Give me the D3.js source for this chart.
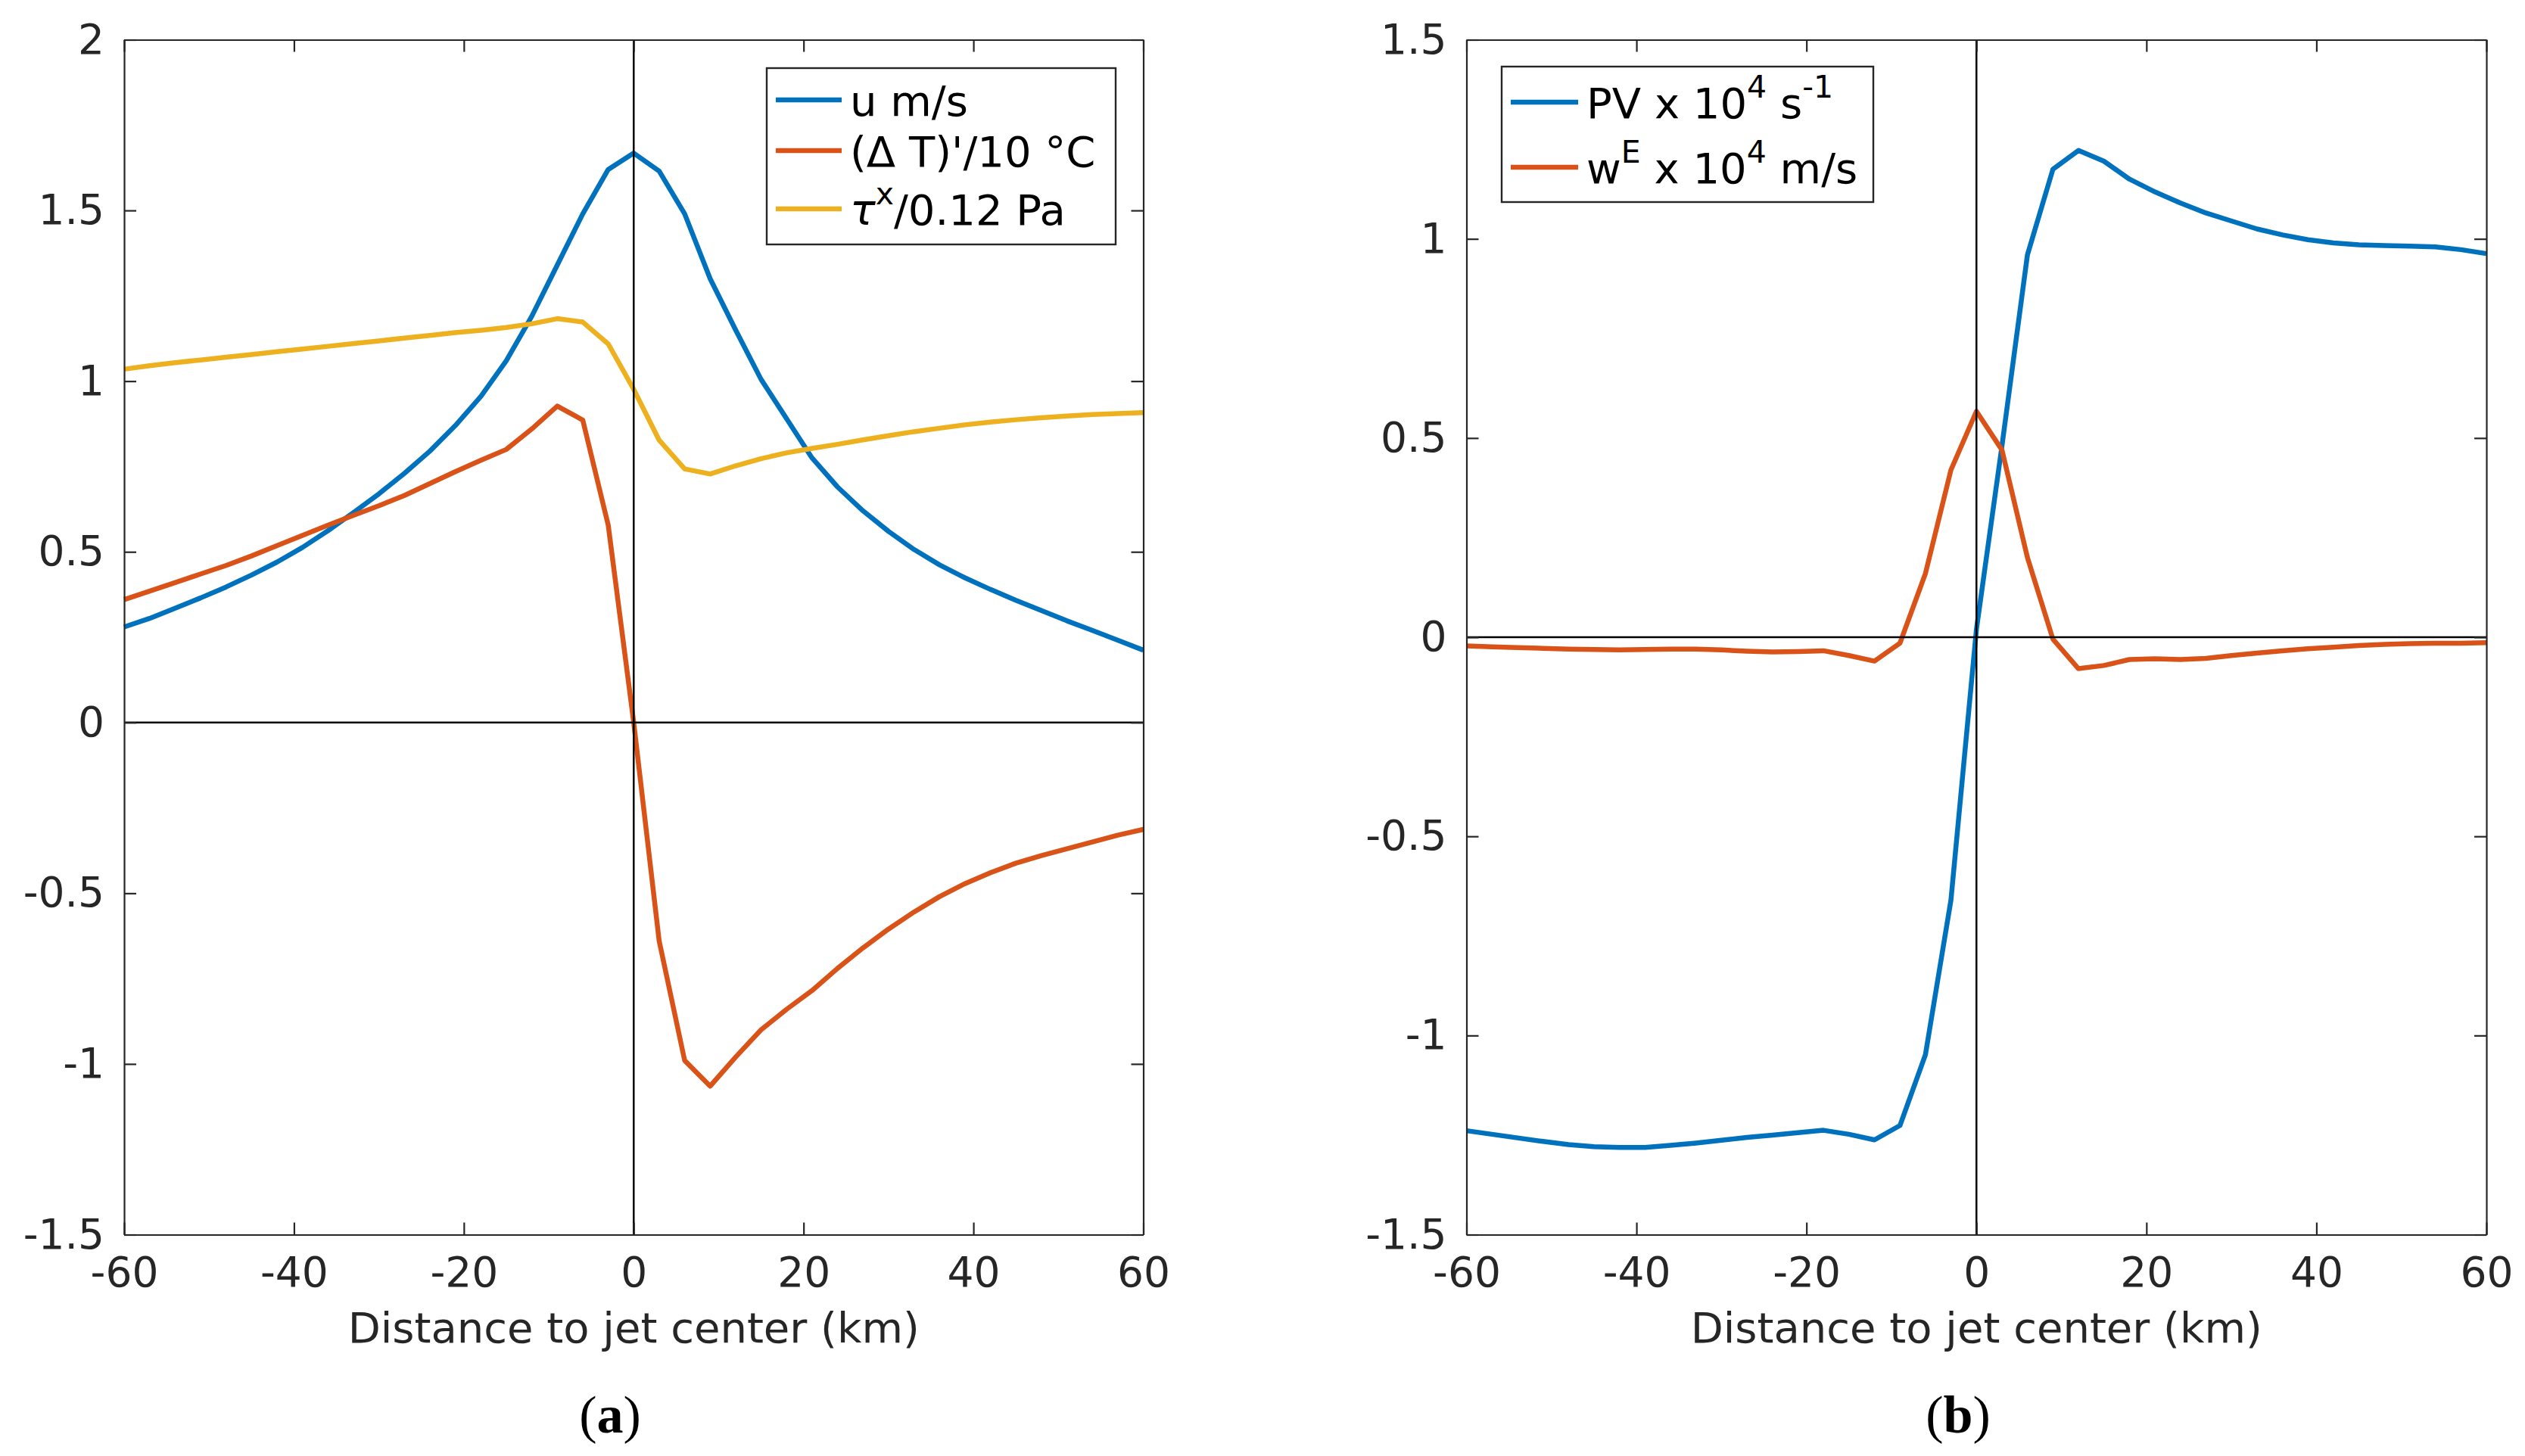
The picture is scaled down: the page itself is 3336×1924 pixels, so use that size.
<!DOCTYPE html>
<html>
<head>
<meta charset="utf-8">
<script src="https://cdn.jsdelivr.net/npm/d3@7"></script>
<style>
  html, body { margin: 0; padding: 0; background: #ffffff; }
  svg { display: block; }
  text { font-family: "DejaVu Sans", sans-serif; }
</style>
</head>
<body>
<svg id="chart" width="3336" height="1924"></svg>
<script>
// ---------------- data ----------------
const xKm = [-60,-57,-54,-51,-48,-45,-42,-39,-36,-33,-30,-27,-24,-21,-18,-15,-12,-9,-6,-3,
             0,3,6,9,12,15,18,21,24,27,30,33,36,39,42,45,48,51,54,57,60];

// panel (a)
const uVals = [0.28,0.305,0.335,0.365,0.397,0.432,0.47,0.513,0.562,0.615,0.67,0.73,0.795,0.87,0.955,1.06,1.19,1.34,1.49,1.62,
               1.668,1.615,1.49,1.30,1.15,1.005,0.89,0.775,0.69,0.62,0.56,0.507,0.462,0.424,0.39,0.358,0.328,0.298,0.27,0.241,0.212];
const dTVals = [0.36,0.385,0.41,0.435,0.46,0.488,0.518,0.548,0.578,0.607,0.635,0.665,0.70,0.735,0.768,0.80,0.86,0.927,0.886,0.578,
                0.0,-0.64,-0.99,-1.065,-0.98,-0.90,-0.84,-0.785,-0.72,-0.66,-0.605,-0.555,-0.51,-0.472,-0.44,-0.412,-0.39,-0.37,-0.35,-0.33,-0.313];
const tauVals = [1.035,1.045,1.054,1.062,1.07,1.078,1.086,1.094,1.102,1.11,1.118,1.126,1.134,1.142,1.149,1.157,1.168,1.183,1.173,1.109,
                 0.976,0.827,0.743,0.728,0.752,0.773,0.79,0.803,0.815,0.828,0.84,0.852,0.862,0.872,0.88,0.887,0.893,0.898,0.902,0.905,0.908];

// panel (b)
const pvVals = [-1.239,-1.248,-1.257,-1.266,-1.274,-1.279,-1.281,-1.281,-1.276,-1.27,-1.263,-1.256,-1.25,-1.244,-1.238,-1.248,-1.262,-1.226,-1.048,-0.66,
                0.02,0.48,0.96,1.175,1.222,1.195,1.15,1.118,1.09,1.065,1.045,1.025,1.01,0.998,0.99,0.985,0.983,0.982,0.98,0.973,0.963];
const wEVals = [-0.022,-0.024,-0.026,-0.028,-0.03,-0.031,-0.032,-0.031,-0.03,-0.03,-0.032,-0.035,-0.037,-0.036,-0.034,-0.046,-0.06,-0.015,0.16,0.42,
                0.567,0.47,0.2,-0.005,-0.079,-0.071,-0.056,-0.054,-0.056,-0.053,-0.046,-0.04,-0.034,-0.029,-0.025,-0.021,-0.018,-0.016,-0.015,-0.015,-0.014];

// ticks
const xTicks = [-60,-40,-20,0,20,40,60];
const yTicksA = [-1.5,-1,-0.5,0,0.5,1,1.5,2];
const yTicksB = [-1.5,-1,-0.5,0,0.5,1,1.5];

const xLabel = "Distance to jet center (km)";
const panelLabels = ["a", "b"];

const colors = ["#0072BD", "#D95319", "#EDB120"];
const axisColor = "#262626";

// ---------------- drawing ----------------
const svg = d3.select("#chart");
svg.append("rect").attr("width", 3336).attr("height", 1924).attr("fill", "#fff");

function drawPanel(cfg) {
  const g = svg.append("g");
  const x = d3.scaleLinear().domain([-60, 60]).range([cfg.left, cfg.right]);
  const y = d3.scaleLinear().domain(cfg.yDomain).range([cfg.bottom, cfg.top]);
  const tickLen = 16;

  // data lines
  const line = d3.line().x((d, i) => x(xKm[i])).y(d => y(d));
  cfg.series.forEach(s => {
    g.append("path").datum(s.values)
      .attr("d", line)
      .attr("fill", "none")
      .attr("stroke", s.color)
      .attr("stroke-width", 6.5)
      .attr("stroke-linejoin", "round");
  });

  // zero lines
  g.append("line").attr("x1", x(0)).attr("x2", x(0)).attr("y1", cfg.top).attr("y2", cfg.bottom)
    .attr("stroke", "#000").attr("stroke-width", 2.5);
  g.append("line").attr("x1", cfg.left).attr("x2", cfg.right).attr("y1", y(0)).attr("y2", y(0))
    .attr("stroke", "#000").attr("stroke-width", 2.5);

  const fmt = d => String(d);
  const styleAxis = sel => {
    sel.selectAll(".domain").attr("stroke", axisColor).attr("stroke-width", 2.2);
    sel.selectAll(".tick line").attr("stroke", axisColor).attr("stroke-width", 2.2);
    sel.selectAll(".tick text").attr("fill", axisColor)
      .style("font-family", "'DejaVu Sans', sans-serif").style("font-size", "55px");
  };

  g.append("g").attr("transform", `translate(0,${cfg.bottom})`)
    .call(d3.axisBottom(x).tickValues(xTicks).tickFormat(fmt).tickSize(-tickLen).tickSizeOuter(0).tickPadding(29))
    .call(styleAxis);
  g.append("g").attr("transform", `translate(0,${cfg.top})`)
    .call(d3.axisTop(x).tickValues(xTicks).tickFormat("").tickSize(-tickLen).tickSizeOuter(0))
    .call(styleAxis);
  g.append("g").attr("transform", `translate(${cfg.left},0)`)
    .call(d3.axisLeft(y).tickValues(cfg.yTicks).tickFormat(fmt).tickSize(-tickLen).tickSizeOuter(0).tickPadding(26))
    .call(styleAxis);
  g.append("g").attr("transform", `translate(${cfg.right},0)`)
    .call(d3.axisRight(y).tickValues(cfg.yTicks).tickFormat("").tickSize(-tickLen).tickSizeOuter(0))
    .call(styleAxis);

  // x label
  g.append("text").attr("x", (cfg.left + cfg.right) / 2).attr("y", cfg.bottom + 142)
    .attr("text-anchor", "middle").attr("fill", axisColor)
    .style("font-size", "56px").text(xLabel);

  // panel label
  const pl = g.append("text").attr("x", cfg.labelX).attr("y", 1893)
    .attr("text-anchor", "middle")
    .style("font-family", "'Liberation Serif', 'Times New Roman', serif").style("font-size", "70px")
    .attr("fill", "#000");
  pl.append("tspan").text("(");
  pl.append("tspan").attr("font-weight", "bold").text(cfg.label);
  pl.append("tspan").text(")");

  // legend
  const L = cfg.legend;
  g.append("rect").attr("x", L.x).attr("y", L.y).attr("width", L.w).attr("height", L.h)
    .attr("fill", "#fff").attr("stroke", axisColor).attr("stroke-width", 2.4);
  L.rows.forEach((r, i) => {
    g.append("line").attr("x1", L.lineX1).attr("x2", L.lineX2).attr("y1", r.y).attr("y2", r.y)
      .attr("stroke", cfg.series[i].color).attr("stroke-width", 6.5);
    const t = g.append("text").attr("x", L.textX).attr("y", r.y + 21)
      .attr("fill", "#000").style("font-size", "56px");
    let shift = 0;
    r.parts.forEach(p => {
      const ts = t.append("tspan").text(p.t);
      const target = p.sup ? -27 : 0;
      if (target !== shift) { ts.attr("dy", target - shift); shift = target; }
      if (p.sup) ts.style("font-size", "41px");
      if (p.it) ts.style("font-style", "italic");
    });
  });
}

drawPanel({
  left: 164, right: 1510.5, top: 52.5, bottom: 1631.5,
  yDomain: [-1.5, 2], yTicks: yTicksA,
  series: [
    { values: uVals, color: colors[0] },
    { values: dTVals, color: colors[1] },
    { values: tauVals, color: colors[2] }
  ],
  label: panelLabels[0], labelX: 806,
  legend: {
    x: 1013, y: 90, w: 461, h: 233, lineX1: 1025, lineX2: 1112, textX: 1123,
    rows: [
      { y: 132, parts: [{ t: "u m/s" }] },
      { y: 199, parts: [{ t: "(\u0394 T)'/10 \u00B0C" }] },
      { y: 276, parts: [{ t: "\u03C4", it: true }, { t: "x", sup: true }, { t: "/0.12 Pa" }] }
    ]
  }
});

drawPanel({
  left: 1937.5, right: 3285, top: 52.5, bottom: 1631.5,
  yDomain: [-1.5, 1.5], yTicks: yTicksB,
  series: [
    { values: pvVals, color: colors[0] },
    { values: wEVals, color: colors[1] }
  ],
  label: panelLabels[1], labelX: 2587,
  legend: {
    x: 1984, y: 88, w: 491, h: 179, lineX1: 1996, lineX2: 2085, textX: 2096,
    rows: [
      { y: 135, parts: [{ t: "PV x 10" }, { t: "4", sup: true }, { t: " s" }, { t: "-1", sup: true }] },
      { y: 221, parts: [{ t: "w" }, { t: "E", sup: true }, { t: " x 10" }, { t: "4", sup: true }, { t: " m/s" }] }
    ]
  }
});
</script>
</body>
</html>
